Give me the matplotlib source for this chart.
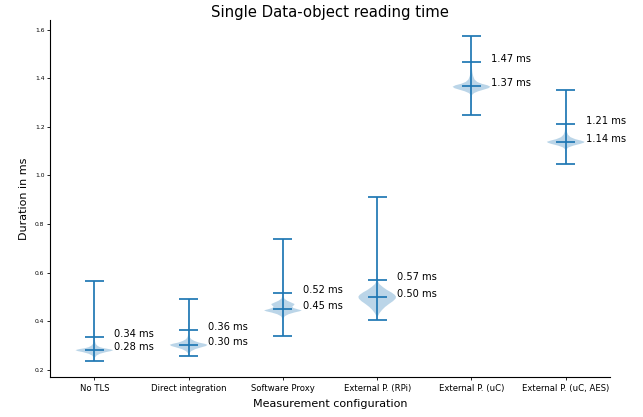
import matplotlib
matplotlib.use("Agg")
import matplotlib.pyplot as plt

configs = ["No TLS", "Direct integration", "Software Proxy",
           "External P. (RPi)", "External P. (uC)", "External P. (uC, AES)"]

mins = [0.236, 0.256, 0.339, 0.406, 1.250, 1.048]
maxs = [0.565, 0.490, 0.740, 0.913, 1.574, 1.354]
medians = [0.279, 0.303, 0.451, 0.501, 1.368, 1.140]
upper_q = [0.336, 0.361, 0.516, 0.571, 1.468, 1.213]

# density profiles (duration, relative half-width)
prof_y = [
    [0.236, 0.250, 0.258, 0.265, 0.272, 0.276, 0.280, 0.284, 0.288, 0.292, 0.298, 0.305, 0.315, 0.340, 0.400, 0.565],
    [0.256, 0.268, 0.276, 0.284, 0.291, 0.297, 0.302, 0.306, 0.311, 0.318, 0.325, 0.333, 0.345, 0.490],
    [0.339, 0.410, 0.420, 0.428, 0.435, 0.440, 0.444, 0.448, 0.454, 0.460, 0.465, 0.470, 0.476, 0.484, 0.492, 0.505, 0.740],
    [0.406, 0.420, 0.432, 0.445, 0.458, 0.470, 0.482, 0.492, 0.500, 0.508, 0.518, 0.528, 0.540, 0.552, 0.565, 0.600, 0.913],
    [1.250, 1.332, 1.340, 1.347, 1.354, 1.360, 1.366, 1.372, 1.378, 1.386, 1.396, 1.410, 1.425, 1.445, 1.470, 1.574],
    [1.048, 1.108, 1.116, 1.123, 1.130, 1.135, 1.139, 1.144, 1.150, 1.158, 1.168, 1.180, 1.195, 1.212, 1.354],
]
prof_w = [
    [0.0, 0.04, 0.12, 0.3, 0.62, 0.88, 1.0, 0.8, 0.5, 0.3, 0.16, 0.08, 0.04, 0.01, 0.0, 0.0],
    [0.0, 0.04, 0.14, 0.35, 0.65, 0.92, 1.0, 0.85, 0.55, 0.3, 0.14, 0.06, 0.02, 0.0],
    [0.0, 0.02, 0.1, 0.3, 0.6, 0.88, 1.0, 0.8, 0.55, 0.5, 0.58, 0.62, 0.45, 0.22, 0.08, 0.02, 0.0],
    [0.0, 0.04, 0.12, 0.25, 0.42, 0.62, 0.84, 0.97, 1.0, 0.93, 0.75, 0.52, 0.3, 0.12, 0.04, 0.0, 0.0],
    [0.0, 0.03, 0.14, 0.35, 0.65, 0.9, 1.0, 0.85, 0.55, 0.3, 0.16, 0.09, 0.05, 0.02, 0.0, 0.0],
    [0.0, 0.03, 0.15, 0.4, 0.75, 0.95, 1.0, 0.8, 0.5, 0.25, 0.12, 0.06, 0.03, 0.01, 0.0],
]

stats = []
for i in range(len(configs)):
    stats.append({
        "coords": prof_y[i],
        "vals": prof_w[i],
        "mean": medians[i],
        "median": medians[i],
        "min": mins[i],
        "max": maxs[i],
        "quantiles": [upper_q[i]],
    })

positions = list(range(1, len(configs) + 1))

fig = plt.figure(figsize=(6.43, 4.17), dpi=100)
ax = fig.add_axes([0.0778, 0.0959, 0.871, 0.856])
parts = ax.violin(stats, positions=positions, widths=0.4,
                  showmedians=True, showextrema=True)
for key in ["cmins", "cmaxes", "cbars", "cmedians", "cquantiles"]:
    if key in parts:
        parts[key].set_linewidth(1.25)

for p, q, m in zip(positions, upper_q, medians):
    ax.text(p + 0.21, q, f"{q:.2f} ms", fontsize=7.1)
    ax.text(p + 0.21, m, f"{m:.2f} ms", fontsize=7.1)

ax.set_xticks(positions)
ax.set_xticklabels(configs)
ax.tick_params(axis="x", labelsize=6.1, length=2, width=0.6, pad=3)
ax.tick_params(axis="y", labelsize=4.3, length=2, width=0.6, pad=2)
ax.spines["top"].set_visible(False)
ax.spines["right"].set_visible(False)

ax.set_title("Single Data-object reading time", fontsize=10.7, pad=2)
ax.set_xlabel("Measurement configuration", fontsize=8)
ax.set_ylabel("Duration in ms", fontsize=8)

fig.savefig("out.png", dpi=100)
